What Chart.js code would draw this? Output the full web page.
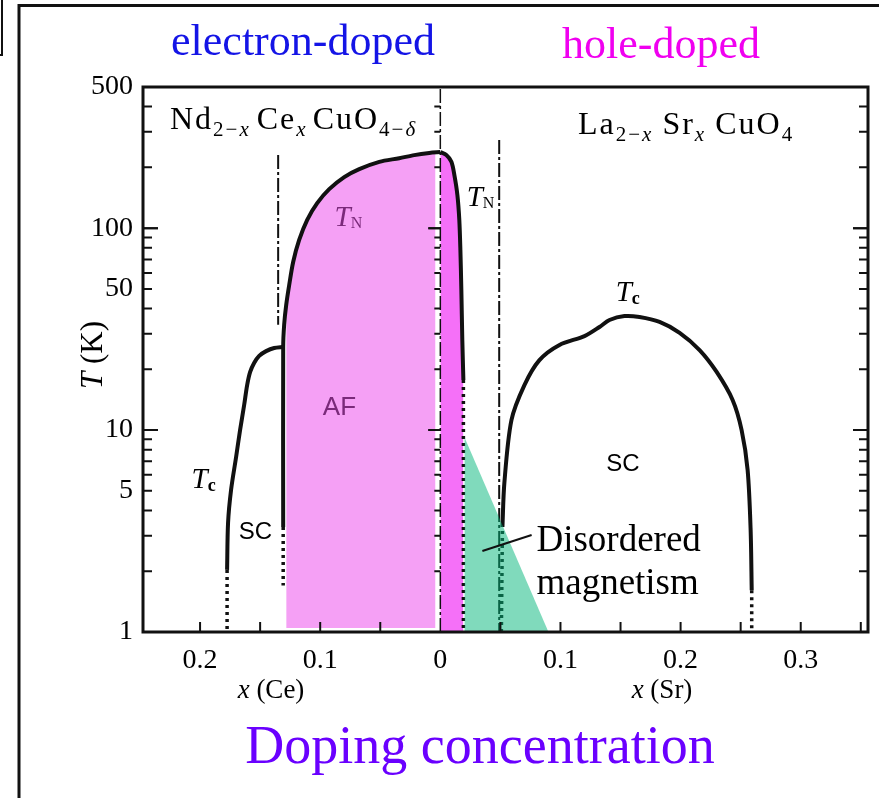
<!DOCTYPE html>
<html lang="en">
<head>
<meta charset="UTF-8" />
<title>Cuprate phase diagram</title>
<script src="https://cdn.jsdelivr.net/npm/chart.js"></script>
<style>
  body { margin: 0; background: #fff; }
  canvas { display: block; }
</style>
</head>
<body>
<canvas id="phase" width="879" height="798"></canvas>
<script>
// doping axis: negative side is x(Ce) for Nd2-xCexCuO4, positive side is x(Sr) for La2-xSrxCuO4
const xTicks = [-0.2, -0.1, 0, 0.1, 0.2, 0.3];
const xTickLabels = ['0.2', '0.1', '0', '0.1', '0.2', '0.3'];
const xMinor = [-0.2, -0.15, -0.1, -0.05, 0.05, 0.1, 0.15, 0.2, 0.25, 0.3, 0.35];
const yTicks = [1, 5, 10, 50, 100, 500];
const yLong = [10, 100];
const yMinor = [2, 3, 4, 6, 7, 8, 9, 20, 30, 40, 60, 70, 80, 90, 200, 300, 400];

// Neel line, electron side
const tnNdX = [0, -0.0092, -0.0217, -0.0342, -0.0508, -0.0675, -0.08, -0.0925, -0.1025, -0.1108, -0.1175, -0.1225, -0.1258, -0.1283, -0.13, -0.1308, -0.1308];
const tnNdT = [238, 235.6, 230, 222, 213, 196, 179, 156, 133, 110, 87.4, 68, 52.3, 41.6, 33.2, 25.8, 3.31];
const tnNdDotX = [-0.1308, -0.1308];
const tnNdDotT = [3.31, 1.7];

// AF region fill under the Neel line (electron side)
const afX = [-0.1283, -0.1258, -0.1225, -0.1175, -0.1108, -0.1025, -0.0925, -0.08, -0.0675, -0.0508, -0.0342, -0.0217, -0.004];
const afT = [41.6, 52.3, 68, 87.4, 110, 133, 156, 179, 196, 213, 222, 230, 236];

// superconducting dome, electron side
const tcNdX = [-0.1308, -0.1383, -0.145, -0.1508, -0.155, -0.1583, -0.1608, -0.1633, -0.1667, -0.17, -0.1742, -0.1767, -0.1775];
const tcNdT = [25.8, 25.5, 24.6, 23.3, 21.5, 19.4, 16.7, 13.3, 10, 7.36, 5.05, 3.47, 2.03];
const tcNdDotX = [-0.1775, -0.1775];
const tcNdDotT = [2.03, 1.03];

// Neel line, hole side
const tnLsX = [0, 0.005, 0.0092, 0.0117, 0.0142, 0.0158, 0.0167, 0.0175, 0.0183, 0.0192];
const tnLsT = [238, 230, 213, 183, 146, 110, 78, 49.4, 27.9, 17.7];
const tnLsDotX = [0.0192, 0.0192];
const tnLsDotT = [17.7, 1];

// superconducting dome, hole side
const tcLsX = [0.0517, 0.0533, 0.0592, 0.07, 0.0825, 0.0992, 0.12, 0.1325, 0.1408, 0.1533, 0.1658, 0.1825, 0.1992, 0.2158, 0.23, 0.2433, 0.2508, 0.2558, 0.2583, 0.2592];
const tcLsT = [3.31, 5.47, 11.2, 16.7, 22.2, 26.4, 29.2, 32.4, 35.1, 36.7, 36.3, 34.3, 30.3, 24.9, 19.4, 14.1, 10, 6.34, 3.2, 1.61];
const tcLsDotLX = [0.0508, 0.0517];
const tcLsDotLT = [1, 3.31];
const tcLsDotRX = [0.2592, 0.2592];
const tcLsDotRT = [1.61, 1];

// phase boundaries drawn dash-dot
const zeroX = [0, 0];
const zeroT = [1, 500];
const bndNdX = [-0.135, -0.135];
const bndNdT = [230, 33.2];
const bndLsX = [0.049, 0.049];
const bndLsT = [273, 1];

// disordered magnetism wedge
const dmX = [0.02, 0.09];
const dmT = [9.25, 1];
const leadX = [0.035, 0.076];
const leadT = [2.52, 3.02];

const pts = (xs, ts) => xs.map((x, i) => ({ x, y: ts[i] }));

const solid = (xs, ts) => ({
  data: pts(xs, ts), showLine: true, borderColor: '#111', borderWidth: 4,
  pointRadius: 0, tension: 0.3, fill: false, order: 2
});
const dotted = (xs, ts) => ({
  data: pts(xs, ts), showLine: true, borderColor: '#111', borderWidth: 3.5,
  borderDash: [3, 4], pointRadius: 0, fill: false, order: 2
});
const dashDot = (xs, ts, w) => ({
  data: pts(xs, ts), showLine: true, borderColor: '#111', borderWidth: w,
  borderDash: [14, 3, 3, 3], pointRadius: 0, fill: false, order: 2
});

const datasets = [
  { data: pts(afX, afT), showLine: true, borderWidth: 0, pointRadius: 0, tension: 0.3,
    backgroundColor: '#f5a0f5', fill: { value: 1.046 }, order: 3 },
  { data: pts(tnLsX.concat(tnLsDotX.slice(1)), tnLsT.concat(tnLsDotT.slice(1))), showLine: true,
    borderWidth: 0, pointRadius: 0, tension: 0.3, backgroundColor: '#f570f8', fill: { value: 1 }, order: 3 },
  dashDot(zeroX, zeroT, 1.5),
  dashDot(bndNdX, bndNdT, 2),
  dashDot(bndLsX, bndLsT, 2),
  solid(tnNdX, tnNdT),
  dotted(tnNdDotX, tnNdDotT),
  solid(tcNdX, tcNdT),
  dotted(tcNdDotX, tcNdDotT),
  solid(tnLsX, tnLsT),
  dotted(tnLsDotX, tnLsDotT),
  solid(tcLsX, tcLsT),
  dotted(tcLsDotLX, tcLsDotLT),
  dotted(tcLsDotRX, tcLsDotRT),
  { data: pts(dmX, dmT), showLine: true, borderWidth: 0, pointRadius: 0,
    backgroundColor: 'rgba(1,181,121,0.5)', fill: { value: 1 }, order: 1 },
  { data: pts(leadX, leadT), showLine: true, borderColor: '#111', borderWidth: 2,
    pointRadius: 0, fill: false, order: 0 }
];

const serif = '"Liberation Serif", "Times New Roman", serif';
const sans = '"Liberation Sans", Arial, sans-serif';

// draw a row of differently styled pieces (for subscripts)
function runs(ctx, parts, x, y, align) {
  let w = 0;
  parts.forEach(p => { ctx.font = p.f; w += ctx.measureText(p.t).width + (p.gap || 0); });
  let cx = align === 'center' ? x - w / 2 : align === 'right' ? x - w : x;
  parts.forEach(p => {
    ctx.font = p.f;
    ctx.fillText(p.t, cx, y + (p.dy || 0));
    cx += ctx.measureText(p.t).width + (p.gap || 0);
  });
}

const decor = {
  id: 'decor',
  afterDatasetsDraw(chart) {
    const { ctx, chartArea: a, scales: { x, y } } = chart;
    ctx.save();
    ctx.strokeStyle = '#111';

    // ticks on left axis, right edge and the x = 0 line
    ctx.lineWidth = 2;
    const x0 = x.getPixelForValue(0);
    yMinor.concat(yTicks, yLong).forEach(v => {
      const py = y.getPixelForValue(v);
      const len = yLong.includes(v) ? 15 : 9;
      ctx.beginPath();
      ctx.moveTo(a.left, py); ctx.lineTo(a.left + len, py);
      ctx.moveTo(a.right, py); ctx.lineTo(a.right - len, py);
      ctx.moveTo(x0, py); ctx.lineTo(x0 - (yLong.includes(v) ? 12 : 6), py);
      ctx.stroke();
    });
    xMinor.forEach(v => {
      const px = x.getPixelForValue(v);
      ctx.beginPath();
      ctx.moveTo(px, a.bottom); ctx.lineTo(px, a.bottom - 10);
      ctx.stroke();
    });

    // plot box
    ctx.lineWidth = 3;
    ctx.strokeRect(a.left, a.top, a.right - a.left, a.bottom - a.top);

    // outer page frame
    ctx.lineWidth = 3;
    ctx.beginPath();
    ctx.moveTo(879, 5.5); ctx.lineTo(19, 5.5); ctx.lineTo(19, 798);
    ctx.stroke();
    ctx.lineWidth = 2;
    ctx.beginPath();
    ctx.moveTo(2, 0); ctx.lineTo(2, 55); ctx.lineTo(0, 55);
    ctx.stroke();
    ctx.restore();
  },
  afterDraw(chart) {
    const { ctx, chartArea: a, scales: { x, y } } = chart;
    const X = v => x.getPixelForValue(v);
    const Y = v => y.getPixelForValue(v);
    ctx.save();
    ctx.fillStyle = '#000';
    ctx.textBaseline = 'middle';

    // tick labels
    const num = `28px ${serif}`;
    yTicks.forEach(v => runs(ctx, [{ t: String(v), f: num }], a.left - 10, Y(v), 'right'));
    xTicks.forEach((v, i) => runs(ctx, [{ t: xTickLabels[i], f: num }], X(v), a.bottom + 29, 'center'));

    // axis titles
    const it27 = `italic 27px ${serif}`, rg27 = `27px ${serif}`;
    runs(ctx, [{ t: 'x', f: it27 }, { t: ' (Ce)', f: rg27 }], 271, a.bottom + 59, 'center');
    runs(ctx, [{ t: 'x', f: it27 }, { t: ' (Sr)', f: rg27 }], 662, a.bottom + 59, 'center');
    ctx.save();
    ctx.translate(94, 355);
    ctx.rotate(-Math.PI / 2);
    runs(ctx, [{ t: 'T', f: `italic 31px ${serif}` }, { t: ' (K)', f: `31px ${serif}` }], 0, 0, 'center');
    ctx.restore();

    // compound names
    ctx.textBaseline = 'alphabetic';
    ctx.letterSpacing = '2px';
    const c32 = `32px ${serif}`, s21 = `21px ${serif}`, si21 = `italic 21px ${serif}`;
    runs(ctx, [
      { t: 'Nd', f: c32 }, { t: '2\u2212', f: s21, dy: 7 }, { t: 'x', f: si21, dy: 7, gap: 6 },
      { t: 'Ce', f: c32 }, { t: 'x', f: si21, dy: 7, gap: 5 },
      { t: 'CuO', f: c32 }, { t: '4\u2212', f: s21, dy: 7 }, { t: '\u03b4', f: si21, dy: 7 }
    ], 170, 129, 'left');
    runs(ctx, [
      { t: 'La', f: c32 }, { t: '2\u2212', f: s21, dy: 7 }, { t: 'x', f: si21, dy: 7, gap: 9 },
      { t: 'Sr', f: c32 }, { t: 'x', f: si21, dy: 7, gap: 9 },
      { t: 'CuO', f: c32 }, { t: '4', f: s21, dy: 7 }
    ], 578, 134, 'left');
    ctx.letterSpacing = '0px';
    ctx.textBaseline = 'middle';

    // phase labels
    const tIt = `italic 29px ${serif}`, sub = `16px ${serif}`, subB = `bold 18px ${serif}`;
    ctx.fillStyle = '#7a2a7a';
    runs(ctx, [{ t: 'T', f: tIt }, { t: 'N', f: sub, dy: 6 }], X(-0.0765), Y(112), 'center');
    ctx.font = `26px ${sans}`;
    ctx.textAlign = 'center';
    ctx.fillText('AF', X(-0.084), Y(12.9));
    ctx.textAlign = 'left';
    ctx.fillStyle = '#000';
    runs(ctx, [{ t: 'T', f: tIt }, { t: 'N', f: sub, dy: 6 }], X(0.0335), Y(141), 'center');
    runs(ctx, [{ t: 'T', f: tIt }, { t: 'c', f: subB, dy: 6 }], X(0.156), Y(47.7), 'center');
    runs(ctx, [{ t: 'T', f: tIt }, { t: 'c', f: subB, dy: 6 }], X(-0.197), Y(5.66), 'center');
    ctx.font = `24px ${sans}`;
    ctx.textAlign = 'center';
    ctx.fillText('SC', X(-0.154), Y(3.13));
    ctx.fillText('SC', X(0.152), Y(6.79));
    ctx.textAlign = 'left';
    ctx.font = `37px ${serif}`;
    ctx.fillText('Disordered', X(0.08), Y(2.82));
    ctx.fillText('magnetism', X(0.08), Y(1.73));

    // headings
    ctx.textBaseline = 'alphabetic';
    ctx.textAlign = 'center';
    ctx.font = `44px ${serif}`;
    ctx.fillStyle = '#1414e6';
    ctx.fillText('electron-doped', 303, 55);
    ctx.fillStyle = '#f000f0';
    ctx.fillText('hole-doped', 661, 58);
    ctx.font = `54px ${serif}`;
    ctx.fillStyle = '#6a00ff';
    ctx.fillText('Doping concentration', 480, 763);
    ctx.restore();
  }
};

new Chart(document.getElementById('phase'), {
  type: 'scatter',
  data: { datasets },
  options: {
    responsive: false,
    animation: false,
    devicePixelRatio: 1,
    layout: { padding: { left: 143, right: 11, top: 87, bottom: 166 } },
    plugins: { legend: { display: false }, tooltip: { enabled: false } },
    scales: {
      x: { type: 'linear', min: -0.2475, max: 0.356, display: false },
      y: { type: 'logarithmic', min: 1, max: 500, display: false }
    }
  },
  plugins: [decor]
});
</script>
</body>
</html>
